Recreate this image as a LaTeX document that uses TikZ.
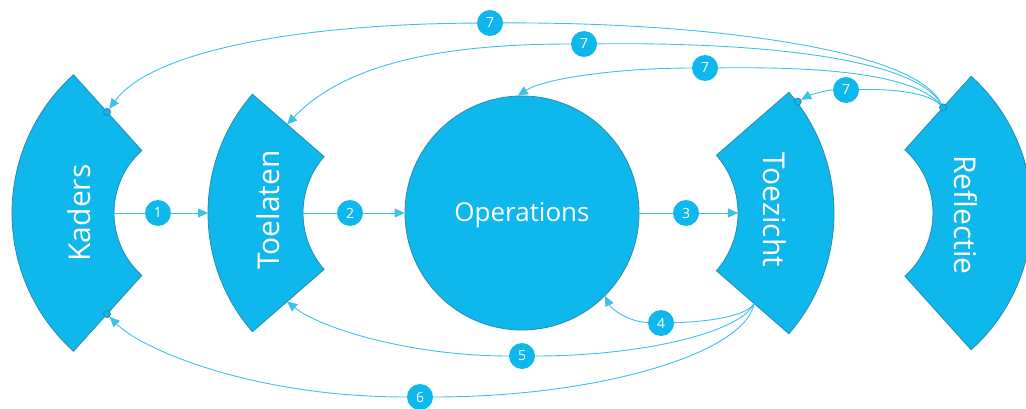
\documentclass[tikz,border=0pt]{standalone}
\usepackage{fontspec}
\setmainfont{Open Sans}
\usepackage{tikz}
\usetikzlibrary{arrows.meta,calc,positioning}
\definecolor{mBlue}{HTML}{0EB8EC}
\definecolor{mEdge}{HTML}{2A8CAE}
\definecolor{mLine}{HTML}{3EC0E8}
\tikzset{
  block/.style={fill=mBlue,draw=mEdge,line width=0.8pt},
  lbl/.style={text=white,font=\fontsize{30}{30}\selectfont,inner sep=0pt},
  badge/.style={circle,fill=mBlue,text=white,minimum size=26pt,inner sep=0pt,font=\fontsize{14}{14}\selectfont},
  dot/.style={circle,fill=mBlue,draw=mEdge,line width=0.9pt,minimum size=7pt,inner sep=0pt},
  link/.style={draw=mLine,line width=0.9pt,-{Triangle[length=10pt,width=9pt]}}
}
% annular sector: center, outer radius, inner radius, start angle, end angle
\newcommand{\mBlock}[5]{\filldraw[block] ($(#1)+(#4:#2pt)$) arc[start angle=#4,end angle=#5,radius=#2pt] -- ($(#1)+(#5:#3pt)$) arc[start angle=#5,end angle=#4,radius=#3pt] -- cycle}

\begin{document}
\begin{tikzpicture}[x=1pt,y=1pt]
    \useasboundingbox (0,0) rectangle (1026,408);
    \coordinate (kad) at (198,195);
    \coordinate (toe) at (389,195);
    \coordinate (tzt) at (650,195);
    \coordinate (ref) at (848,195);
    \mBlock{kad}{186}{84}{132}{228};
    \mBlock{toe}{181}{86}{139}{221};
    \mBlock{tzt}{184}{88}{-41}{41};
    \mBlock{ref}{184}{85}{-48}{48};
    \node[circle,block,minimum size=234pt] (ops) at (522,195) {};
    \node[lbl,rotate=90] (kaders) at (79,195) {Kaders};
    \node[lbl,rotate=90] (toelaten) at (268,198) {Toelaten};
    \node[lbl,font=\fontsize{26}{26}\selectfont] (operations) at (522,193) {Operations};
    \node[lbl,rotate=-90] (toezicht) at (775,198) {Toezicht};
    \node[lbl,rotate=-90] (reflectie) at (966,193) {Reflectie};
    % attachment points
    \coordinate (kad-in) at ($(kad)+(180:84pt)$);
    \coordinate (toe-out) at ($(toe)+(180:181pt)$);
    \coordinate (toe-in) at ($(toe)+(180:86pt)$);
    \coordinate (tzt-in) at ($(tzt)+(0:88pt)$);
    \coordinate (toe-top) at ($(toe)+(139:135pt)$);
    \coordinate (toe-bot) at ($(toe)+(221:135pt)$);
    \coordinate (tzt-bot) at ($(tzt)+(-41:138pt)$);
    \node[dot] (kad-top) at ($(kad)+(132:136pt)$) {};
    \node[dot] (kad-bot) at ($(kad)+(228:136pt)$) {};
    \node[dot] (tzt-top) at ($(tzt)+(37:185pt)$) {};
    \node[dot] (ref-top) at ($(ref)+(48:142pt)$) {};
    % numbered steps
    \node[badge] (b1) at (158,195) {1};
    \node[badge] (b2) at (350,195) {2};
    \node[badge] (b3) at (686,195) {3};
    \node[badge] (b4) at (661,85) {4};
    \node[badge] (b5) at (522,52) {5};
    \node[badge] (b6) at (420,11) {6};
    \node[badge] (b7a) at (490,385) {7};
    \node[badge] (b7b) at (584,364) {7};
    \node[badge] (b7c) at (705,340) {7};
    \node[badge] (b7d) at (846,318) {7};
    % forward flow
    \draw[link] (kad-in) -- (b1) -- (toe-out);
    \draw[link] (toe-in) -- (b2) -- (ops);
    \draw[link] (ops) -- (b3) -- (tzt-in);
    % feedback from Toezicht
    \draw[link] (tzt-bot) .. controls (745,90) and (700,86) .. (b4) .. controls (630,86) and (612,98) .. (ops.-45);
    \draw[link] (tzt-bot) .. controls (740,75) and (640,52) .. (b5) .. controls (410,52) and (320,80) .. (toe-bot);
    \draw[link] (tzt-bot) .. controls (745,55) and (600,11) .. (b6) .. controls (250,11) and (140,60) .. (kad-bot);
    % feedback from Reflectie
    \draw[link] (ref-top) .. controls (915,360) and (700,386) .. (b7a) .. controls (290,384) and (150,355) .. (kad-top);
    \draw[link] (ref-top) .. controls (915,350) and (760,366) .. (b7b) .. controls (460,364) and (350,350) .. (toe-top);
    \draw[link] (ref-top) .. controls (910,338) and (800,341) .. (b7c) .. controls (620,340) and (545,330) .. (ops.92);
    \draw[link] (ref-top) .. controls (925,318) and (880,319) .. (b7d) .. controls (825,318) and (808,312) .. (tzt-top);
\end{tikzpicture}
\end{document}
